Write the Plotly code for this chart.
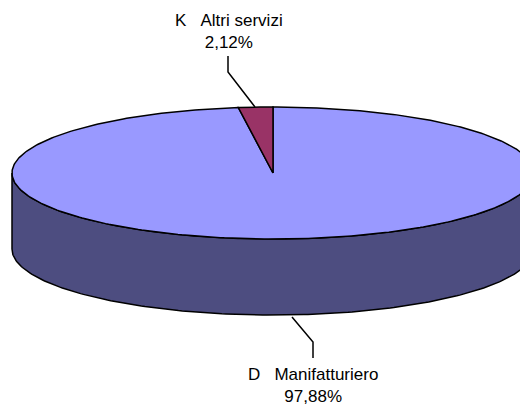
import numpy as np
import plotly.graph_objects as go

codes = ["D", "K"]
names = ["Manifatturiero", "Altri servizi"]
values = [97.88, 2.12]
top_colors = ["#9999FF", "#993366"]
side_colors = ["#4D4D80", "#4D1A33"]

W, H = 528, 407
OFF = 8                # page body margin
cx, cy = 273, 173      # centre of the top face
a, b = 261, 66         # ellipse radii
depth = 76             # thickness of the pie


def ell(theta, dy=0):
    # theta in degrees, clockwise from 12 o'clock
    t = np.radians(theta)
    return cx + a * np.sin(t), cy - b * np.cos(t) + dy


fig = go.Figure()

# cumulative angles from data
total = sum(values)
angles = np.concatenate([[0], np.cumsum(values) / total * 360])

# front side of the cylinder (right -> bottom -> left)
for i in range(len(values)):
    lo = max(angles[i], 90)
    hi = min(angles[i + 1], 270)
    if hi <= lo:
        continue
    th = np.linspace(lo, hi, 200)
    xs, ys = ell(th)
    xb, yb = ell(th[::-1], depth)
    fig.add_trace(go.Scatter(
        x=list(xs) + list(xb) + [xs[0]], y=list(ys) + list(yb) + [ys[0]],
        mode="lines", fill="toself", fillcolor=side_colors[i],
        line=dict(color="black", width=1.5), hoverinfo="skip", showlegend=False))

# top face slices
for i in range(len(values)):
    th = np.linspace(angles[i], angles[i + 1], 400)
    xs, ys = ell(th)
    fig.add_trace(go.Scatter(
        x=[cx] + list(xs) + [cx], y=[cy] + list(ys) + [cy],
        mode="lines", fill="toself", fillcolor=top_colors[i],
        line=dict(color="black", width=1.5), hoverinfo="skip", showlegend=False))

# leader lines and labels
leaders = {
    "D": dict(x=[292, 313, 313], y=[317, 342, 358]),
    "K": dict(x=[255, 228, 228], y=[107, 72, 56]),
}
label_pos = {"D": (313, 385), "K": (229, 31)}

for i, c in enumerate(codes):
    fig.add_trace(go.Scatter(
        x=leaders[c]["x"], y=leaders[c]["y"], mode="lines",
        line=dict(color="black", width=1.5), hoverinfo="skip", showlegend=False))
    pct = f"{values[i]:.2f}".replace(".", ",") + "%"
    lx, ly = label_pos[c]
    fig.add_annotation(
        x=lx, y=ly, text=f"{c}\u00a0\u00a0\u00a0{names[i]}<br>{pct}",
        showarrow=False, xanchor="center", yanchor="middle",
        font=dict(family="Liberation Sans, Arial", size=17, color="black"))

fig.update_xaxes(range=[OFF, W], visible=False, fixedrange=True)
fig.update_yaxes(range=[H, OFF], visible=False, fixedrange=True)
fig.update_layout(width=W - OFF, height=H - OFF, margin=dict(l=0, r=0, t=0, b=0),
                  plot_bgcolor="white", paper_bgcolor="white")

fig.write_html("out.html")
